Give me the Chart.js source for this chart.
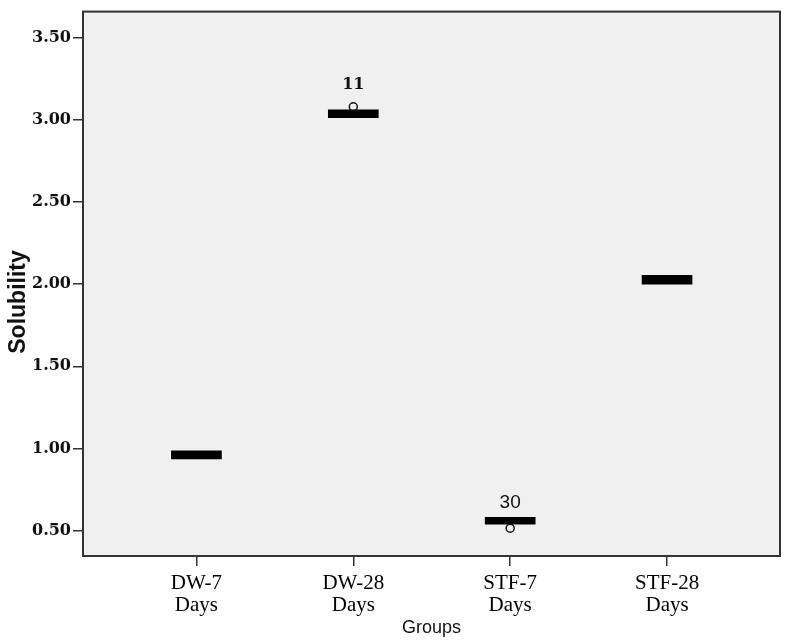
<!DOCTYPE html>
<html><head><meta charset="utf-8">
<script src="https://cdn.jsdelivr.net/npm/chart.js@4.4.0/dist/chart.umd.min.js"></script>
<style>html,body{margin:0;padding:0;background:#fff}#wrap{width:788px;height:644px}</style>
</head><body><div id="wrap"><canvas id="c" width="788" height="644"></canvas></div>
<script>
// ---- data ----
const groupLines = [["DW-7","Days"],["DW-28","Days"],["STF-7","Days"],["STF-28","Days"]];
const boxLow  = [0.937, 3.012, 0.539, 1.999];
const boxHigh = [0.986, 3.060, 0.581, 2.053];
const outlierGroup = [1, 2];
const outlierValue = [3.078, 0.515];
const outlierLabel = ["11", "30"];
const yTicks = [0.5, 1.0, 1.5, 2.0, 2.5, 3.0, 3.5];
const yTitle = "Solubility";

// ---- styles ----
const labelFonts = ['bold 16px "DejaVu Serif"', '19px "Liberation Sans"'];
const labelOffsets = [-22, -25];

const bgPlugin = {
  id: 'bg',
  beforeDraw(chart) {
    const {ctx, chartArea: a} = chart;
    ctx.save();
    ctx.fillStyle = '#f0f0f0';
    ctx.fillRect(a.left, a.top, a.right - a.left, a.bottom - a.top);
    ctx.restore();
  },
  afterDraw(chart) {
    const {ctx, chartArea: a} = chart;
    ctx.save();
    ctx.strokeStyle = '#333';
    ctx.lineWidth = 2;
    ctx.strokeRect(a.left, a.top, a.right - a.left, a.bottom - a.top);
    // y axis title
    ctx.translate(19, 302);
    ctx.rotate(-Math.PI / 2);
    ctx.fillStyle = '#111';
    ctx.font = 'bold 23px "Liberation Sans"';
    ctx.textAlign = 'center';
    ctx.textBaseline = 'middle';
    ctx.fillText(yTitle, 0, 0);
    ctx.restore();
  }
};

const labelPlugin = {
  id: 'outlierLabels',
  afterDatasetsDraw(chart) {
    const {ctx, scales: {x, y}} = chart;
    ctx.save();
    ctx.fillStyle = '#111';
    ctx.textAlign = 'center';
    ctx.textBaseline = 'middle';
    outlierLabel.forEach((t, i) => {
      ctx.font = labelFonts[i];
      ctx.fillText(t, x.getPixelForValue(outlierGroup[i]), y.getPixelForValue(outlierValue[i]) + labelOffsets[i]);
    });
    ctx.restore();
  }
};

new Chart(document.getElementById('c'), {
  type: 'bar',
  data: {
    datasets: [
      {
        type: 'bar',
        data: boxLow.map((v, i) => ({x: i, y: [v, boxHigh[i]]})),
        backgroundColor: '#000',
        borderWidth: 0,
        barThickness: 50,
        order: 2
      },
      {
        type: 'scatter',
        data: outlierGroup.map((g, i) => ({x: g, y: outlierValue[i]})),
        pointRadius: 4,
        pointBackgroundColor: 'rgba(0,0,0,0)',
        pointBorderColor: '#111',
        pointBorderWidth: 1.5,
        order: 1
      }
    ]
  },
  options: {
    responsive: false,
    animation: false,
    layout: {padding: {top: 7, right: 8, left: 0, bottom: 0}},
    plugins: {legend: {display: false}, tooltip: {enabled: false}},
    scales: {
      x: {
        type: 'linear', min: -0.723, max: 3.72, offset: false,
        afterBuildTicks: s => { s.ticks = groupLines.map((_, i) => ({value: i})); },
        afterFit: s => { s.height = 644 - 556; },
        grid: {drawOnChartArea: false, drawTicks: true, tickLength: 10, color: '#333', lineWidth: 1.5, offset: false},
        border: {display: false},
        ticks: {
          callback: v => groupLines[v],
          color: '#000',
          font: {family: 'Liberation Serif', size: 21, lineHeight: 1.05},
          padding: 6, maxRotation: 0, autoSkip: false
        },
        title: {display: true, text: 'Groups', color: '#111',
                font: {family: 'Liberation Sans', size: 18}, padding: {top: 0, bottom: 5}}
      },
      y: {
        type: 'linear', min: 0.346, max: 3.657,
        afterBuildTicks: s => { s.ticks = yTicks.map(v => ({value: v})); },
        afterFit: s => { s.width = 83; },
        grid: {drawOnChartArea: false, drawTicks: true, tickLength: 10, color: '#333', lineWidth: 1.5},
        border: {display: false},
        ticks: {
          callback: v => Number(v).toFixed(2),
          color: '#111',
          font: {family: 'DejaVu Serif', size: 16, weight: 'bold'},
          padding: 2
        },
        title: {display: false}
      }
    }
  },
  plugins: [bgPlugin, labelPlugin]
});
</script>
</body></html>
